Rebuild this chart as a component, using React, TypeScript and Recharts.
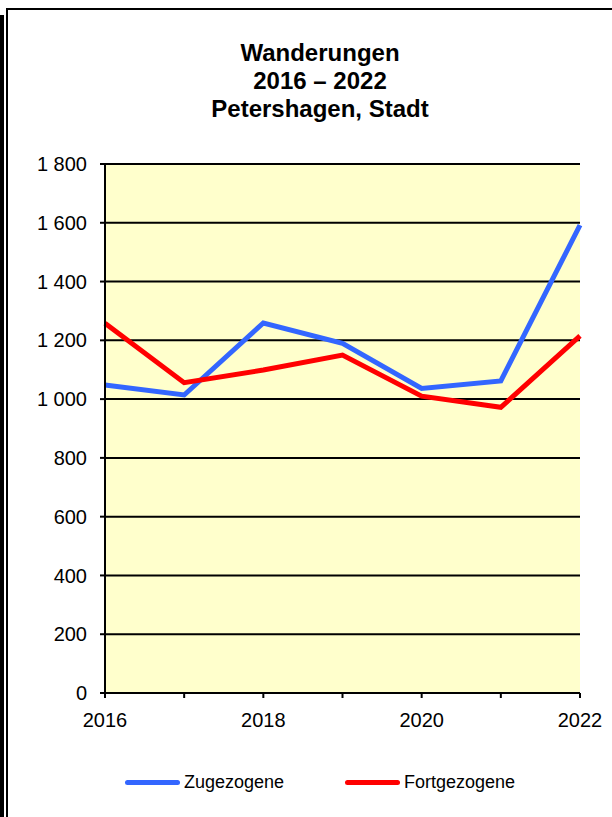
import React from "react";
import {
  LineChart,
  Line,
  XAxis,
  YAxis,
  CartesianGrid,
} from "recharts";

const years = [2016, 2017, 2018, 2019, 2020, 2021, 2022];
const zugezogene = [1048, 1014, 1259, 1190, 1036, 1062, 1592];
const fortgezogene = [1258, 1056, 1099, 1150, 1010, 972, 1215];
const yTicks = [0, 200, 400, 600, 800, 1000, 1200, 1400, 1600, 1800];
const titleLines = ["Wanderungen", "2016 – 2022", "Petershagen, Stadt"];
const seriesNames = ["Zugezogene", "Fortgezogene"];
const seriesColors = ["#3366FF", "#FF0000"];

const FONT = "'Liberation Sans', Arial, sans-serif";

const fmt = (v: number) =>
  String(v).replace(/\B(?=(\d{3})+(?!\d))/g, " ");

// legend drawn as plain html so it doesn't eat plot height
const ChartLegend = () => (
  <div style={{ position: "absolute", top: 770, left: 0, width: 612, height: 24, fontSize: 18 }}>
    {seriesNames.map((name, i) => (
      <div
        key={name}
        style={{
          position: "absolute",
          left: i === 0 ? 125 : 345,
          top: 0,
          height: 24,
          display: "flex",
          alignItems: "center",
          color: "#000",
        }}
      >
        <div
          style={{
            width: 55,
            height: 5,
            borderRadius: 3,
            background: seriesColors[i],
            marginRight: 4,
          }}
        />
        <span>{name}</span>
      </div>
    ))}
  </div>
);

export default function App() {
  const data = years.map((y, i) => ({
    year: y,
    zu: zugezogene[i],
    fort: fortgezogene[i],
  }));

  return (
    <div
      style={{
        position: "absolute",
        left: 0,
        top: 0,
        width: 612,
        height: 817,
        overflow: "hidden",
        background: "#fff",
        fontFamily: FONT,
      }}
    >
      {/* frame */}
      <div
        style={{
          position: "absolute",
          left: 0,
          top: 15,
          width: 4,
          height: 830,
          background: "#000",
        }}
      />
      <div
        style={{
          position: "absolute",
          left: 6,
          top: 8,
          width: 640,
          height: 840,
          border: "2px solid #000",
        }}
      />
      <div
        style={{
          position: "absolute",
          top: 39,
          left: 0,
          width: 640,
          textAlign: "center",
          fontWeight: "bold",
          fontSize: 24,
          lineHeight: "28px",
          color: "#000",
        }}
      >
        {titleLines.map((t) => (
          <div key={t}>{t}</div>
        ))}
      </div>
      <div style={{ position: "absolute", left: 0, top: 0 }}>
        <LineChart
          width={612}
          height={817}
          data={data}
          margin={{ top: 164, right: 32, bottom: 0, left: 0 }}
        >
          <CartesianGrid
            yAxisId="left"
            vertical={false}
            fill="#FFFFCC"
            stroke="#000"
            strokeWidth={2}
            strokeOpacity={1}
          />
          <XAxis
            dataKey="year"
            type="number"
            domain={[2016, 2022]}
            ticks={years}
            tickFormatter={(v: number) => (v % 2 === 0 ? String(v) : "")}
            axisLine={{ stroke: "#000", strokeWidth: 2 }}
            tickLine={{ stroke: "#000", strokeWidth: 2 }}
            tickSize={5}
            tickMargin={15}
            tick={{ fill: "#000", fontSize: 20, fontFamily: FONT }}
            height={124}
            interval={0}
          />
          <YAxis
            yAxisId="left"
            domain={[0, 1800]}
            ticks={yTicks}
            tickFormatter={fmt}
            axisLine={{ stroke: "#000", strokeWidth: 2 }}
            tickLine={{ stroke: "#000", strokeWidth: 2 }}
            tickSize={5}
            tickMargin={13}
            tick={{ fill: "#000", fontSize: 20, fontFamily: FONT }}
            width={105}
            interval={0}
          />
          <YAxis
            yAxisId="right"
            orientation="right"
            domain={[0, 1800]}
            tick={false}
            tickLine={false}
            axisLine={{ stroke: "#000", strokeWidth: 2 }}
            width={0}
          />
          <Line
            yAxisId="left"
            dataKey="zu"
            name={seriesNames[0]}
            stroke={seriesColors[0]}
            strokeWidth={5}
            dot={false}
            isAnimationActive={false}
          />
          <Line
            yAxisId="left"
            dataKey="fort"
            name={seriesNames[1]}
            stroke={seriesColors[1]}
            strokeWidth={5}
            dot={false}
            isAnimationActive={false}
          />
        </LineChart>
      </div>
      <ChartLegend />
    </div>
  );
}
